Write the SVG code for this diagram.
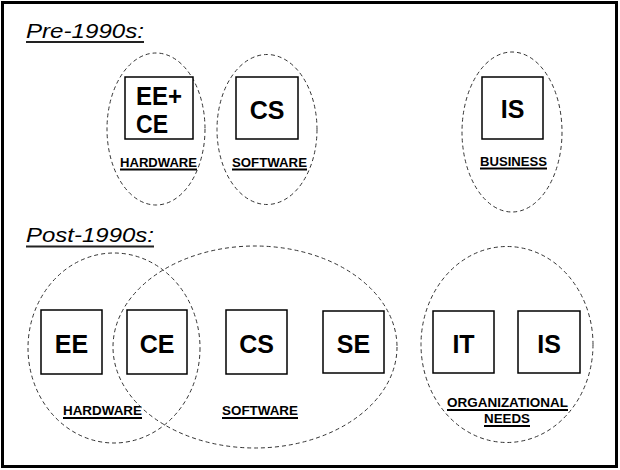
<svg xmlns="http://www.w3.org/2000/svg" width="620" height="470" viewBox="0 0 620 470">
<style>
.frame{fill:#fff;stroke:#000;stroke-width:3}
.grp{fill:none;stroke:#333;stroke-width:1;stroke-dasharray:4 3}
.box{fill:#fff;stroke:#000;stroke-width:1.5}
.big{font-family:"Liberation Sans",Arial,sans-serif;font-weight:bold;font-size:25px;fill:#000;text-anchor:middle}
.lbl{font-family:"Liberation Sans",Arial,sans-serif;font-weight:bold;font-size:12px;fill:#000;text-anchor:middle}
.head{font-family:"Liberation Sans",Arial,sans-serif;font-style:italic;font-size:21px;fill:#000}
.ul{stroke:#000;stroke-width:2}
.hul{stroke:#222;stroke-width:2}
</style>
<rect class="frame" x="2.5" y="2.5" width="614" height="464"/>
<text class="head" x="26" y="38" textLength="118" lengthAdjust="spacingAndGlyphs">Pre-1990s:</text>
<line class="hul" x1="26" y1="42" x2="144" y2="42"/>
<text class="head" x="26" y="242" textLength="128" lengthAdjust="spacingAndGlyphs">Post-1990s:</text>
<line class="hul" x1="26" y1="246.5" x2="154" y2="246.5"/>
<g id="groups">
<g id="pre-hardware"><ellipse class="grp" cx="156" cy="129" rx="49" ry="76"/><text class="lbl" x="158.5" y="166.5" textLength="77" lengthAdjust="spacingAndGlyphs">HARDWARE</text><line class="ul" x1="120" y1="169.5" x2="197" y2="169.5"/></g>
<g id="pre-software"><ellipse class="grp" cx="267" cy="129.5" rx="50" ry="75"/><text class="lbl" x="269.5" y="166.5" textLength="75" lengthAdjust="spacingAndGlyphs">SOFTWARE</text><line class="ul" x1="232" y1="169.5" x2="307" y2="169.5"/></g>
<g id="pre-business"><ellipse class="grp" cx="512" cy="132" rx="50" ry="80"/><text class="lbl" x="513.5" y="165.5" textLength="67" lengthAdjust="spacingAndGlyphs">BUSINESS</text><line class="ul" x1="480" y1="168.5" x2="547" y2="168.5"/></g>
<g id="post-hardware"><ellipse class="grp" cx="114" cy="348" rx="86" ry="95"/><text class="lbl" x="102.5" y="415" textLength="79" lengthAdjust="spacingAndGlyphs">HARDWARE</text><line class="ul" x1="63" y1="418" x2="142" y2="418"/></g>
<g id="post-software"><ellipse class="grp" cx="255" cy="347" rx="142" ry="101"/><text class="lbl" x="260" y="415" textLength="76" lengthAdjust="spacingAndGlyphs">SOFTWARE</text><line class="ul" x1="222" y1="418" x2="298" y2="418"/></g>
<g id="post-org"><ellipse class="grp" cx="507" cy="344.5" rx="86" ry="98"/><text class="lbl" x="507.5" y="407" textLength="121" lengthAdjust="spacingAndGlyphs">ORGANIZATIONAL</text><line class="ul" x1="447" y1="410" x2="568" y2="410"/><text class="lbl" x="507" y="423" textLength="46" lengthAdjust="spacingAndGlyphs">NEEDS</text><line class="ul" x1="484" y1="426" x2="530" y2="426"/></g>
</g>
<g id="pre-eece"><rect class="box" x="125" y="77" width="68" height="62"/><text class="big" x="136" y="105" style="text-anchor:start" textLength="46" lengthAdjust="spacingAndGlyphs">EE+</text><text class="big" x="136" y="133" style="text-anchor:start" textLength="32" lengthAdjust="spacingAndGlyphs">CE</text></g>
<g id="pre-cs"><rect class="box" x="236" y="77" width="62" height="62"/><text class="big" x="267" y="119">CS</text></g>
<g id="pre-is"><rect class="box" x="482" y="77" width="61" height="62"/><text class="big" x="512.5" y="118">IS</text></g>
<g id="post-ee"><rect class="box" x="41" y="310" width="61" height="64"/><text class="big" x="71.5" y="353">EE</text></g>
<g id="post-ce"><rect class="box" x="127" y="310" width="60" height="64"/><text class="big" x="157" y="353">CE</text></g>
<g id="post-cs"><rect class="box" x="226" y="310" width="61" height="64"/><text class="big" x="256.5" y="353">CS</text></g>
<g id="post-se"><rect class="box" x="323" y="311" width="61" height="62"/><text class="big" x="353.5" y="353">SE</text></g>
<g id="post-it"><rect class="box" x="433" y="311" width="61" height="62"/><text class="big" x="463.5" y="353">IT</text></g>
<g id="post-is"><rect class="box" x="518" y="311" width="62" height="62"/><text class="big" x="549" y="353">IS</text></g>
<g id="connectors"></g>
</svg>
